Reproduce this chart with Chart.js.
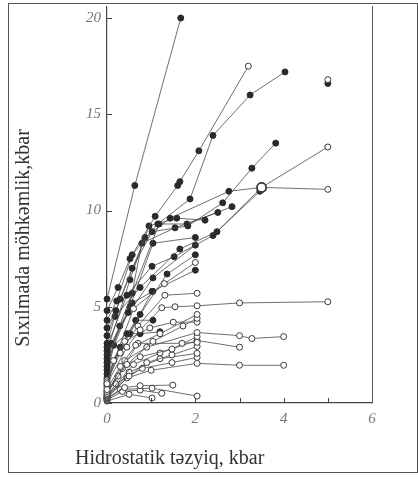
<!DOCTYPE html>
<html lang="az">
<head>
<meta charset="UTF-8">
<title>Sıxılmada möhkəmlik</title>
<script src="https://cdn.jsdelivr.net/npm/chart.js"></script>
<style>
  html, body { margin: 0; padding: 0; background: #fff; }
  #wrap { width: 418px; height: 482px; }
</style>
</head>
<body>
<div id="wrap"><canvas id="chart" width="418" height="482"></canvas></div>
<script>
// axis ticks
const xTickLabels = [0, 2, 4, 6];
const xTickMarks = [1, 2, 3, 4, 5];
const yTickLabels = [0, 5, 10, 15, 20];

// [hydrostatic pressure, compressive strength] pairs, kbar
// curves with filled markers
const filledUpper = [
  [[0, 5.4], [0.63, 11.3], [1.67, 20.0]],
  [[0, 4.8], [0.25, 6.0], [0.52, 7.5], [1.09, 9.7], [1.6, 11.3], [1.65, 11.5], [2.08, 13.1]],
  [[0, 4.3], [0.22, 5.3], [0.57, 7.7], [1.15, 9.3], [1.88, 10.6], [2.4, 13.9], [3.24, 16.0], [4.03, 17.2]],
  [[0, 3.9], [0.2, 4.8], [0.57, 7.0], [1.02, 8.9], [1.83, 9.2], [2.62, 10.4], [3.28, 12.2], [3.82, 13.5]],
  [[0, 3.5], [0.3, 5.4], [0.86, 8.6], [1.43, 9.6], [2.76, 11.0], [3.5, 11.2]],
  [[0, 3.1], [0.18, 4.5], [0.75, 6.0], [1.65, 8.0], [2.49, 8.9], [3.5, 11.2]],
  [[0, 2.9], [0.45, 5.6], [1.02, 7.1], [1.52, 7.6], [2.4, 8.7], [3.46, 11.0]]
];
const filledLower = [
  [[0, 2.7], [0.52, 6.4], [0.95, 9.2], [1.58, 9.6], [2.22, 9.5]],
  [[0, 2.5], [0.48, 4.7], [0.79, 8.3], [1.54, 9.1], [2.51, 9.9]],
  [[0, 2.3], [0.57, 5.7], [1.18, 9.3], [1.81, 9.3], [2.83, 10.2]],
  [[0, 2.1], [0.52, 5.0], [1.04, 8.3], [2.0, 8.6]],
  [[0, 1.9], [0.29, 4.0], [1.04, 6.5], [2.0, 8.2]],
  [[0, 1.7], [0.75, 4.6], [1.36, 6.7], [2.0, 7.7]],
  [[0, 1.5], [0.52, 3.6], [1.02, 5.8], [2.0, 6.9]],
  [[0, 1.3], [0.15, 3.0], [0.45, 3.6], [0.75, 3.6], [1.2, 3.7]],
  [[0, 1.0], [0.3, 2.9], [0.65, 4.3], [1.04, 4.3]],
  [[0, 0.9], [0.1, 3.1], [0.57, 5.2], [1.04, 5.8]]
];
// curves with open markers
const openUpper = [
  [[0, 1.0], [0.45, 2.9], [0.75, 3.8], [1.24, 4.95], [1.54, 5.0], [2.04, 5.05], [3.0, 5.2], [5.0, 5.26]],
  [[0, 1.1], [0.3, 2.6], [0.7, 4.0], [1.31, 5.6], [2.04, 5.7]],
  [[0, 0.7], [0.3, 1.9], [0.65, 3.0], [1.2, 3.6], [2.04, 4.6]],
  [[0, 0.6], [0.45, 2.0], [1.04, 3.2], [1.72, 4.0], [2.04, 4.4]],
  [[0, 0.8], [0.15, 2.2], [0.4, 3.2], [0.97, 3.9], [1.5, 4.2], [2.04, 4.2]],
  [[0, 1.2], [0.6, 4.9], [1.3, 6.2], [2.0, 7.3]],
  [[0, 0.5], [0.4, 2.2], [0.9, 2.9], [2.04, 3.66], [3.0, 3.5], [3.28, 3.35], [4.0, 3.45]],
  [[0, 0.6], [0.25, 1.4], [0.7, 3.1], [1.7, 3.1], [2.04, 3.15]]
];
const openLower = [
  [[0, 0.45], [0.35, 1.8], [0.75, 2.4], [1.47, 2.8], [2.04, 3.45]],
  [[0, 0.4], [0.6, 2.0], [1.2, 2.6], [2.04, 3.25], [3.0, 2.9]],
  [[0, 0.35], [0.5, 1.4], [0.9, 2.1], [1.47, 2.5], [2.04, 2.94]],
  [[0, 0.3], [0.5, 1.6], [1.2, 2.3], [2.04, 2.58]],
  [[0, 0.28], [0.2, 1.0], [0.8, 1.8], [1.47, 2.1], [2.04, 2.37]],
  [[0, 0.25], [0.45, 1.3], [1.0, 1.7], [2.04, 2.06], [3.0, 1.96], [4.0, 1.96]],
  [[0, 0.2], [0.4, 0.8], [0.75, 0.9], [1.49, 0.93]],
  [[0, 0.15], [0.35, 0.6], [0.75, 0.67], [1.24, 0.5]],
  [[0, 0.1], [0.5, 0.45], [1.02, 0.26]],
  [[0, 0.25], [0.3, 0.7], [1.02, 0.77], [2.04, 0.36]]
];
// open continuations of filled curves
const openTails = [
  [[2.08, 13.1], [3.2, 17.5]],
  [[3.5, 11.2], [5.0, 11.1]],
  [[3.5, 11.2], [5.0, 13.3]]
];
const looseFilled = [[5.0, 16.6]];
const looseOpen = [[5.0, 16.8]];

const LINE = '#4a4a4a';
const DOT = '#2a2a2a';

// firstPt: 'normal' | 'hide' | 'big'
function curve(points, filled, firstPt) {
  const first = firstPt || 'normal';
  return {
    data: points.map(p => ({ x: p[0], y: p[1] })),
    showLine: points.length > 1,
    borderColor: LINE,
    borderWidth: 0.8,
    pointRadius: ctx => {
      if (ctx.dataIndex !== 0) return 3;
      return first === 'hide' ? 0 : first === 'big' ? 4.5 : 3;
    },
    pointBorderWidth: ctx => (first === 'big' && ctx.dataIndex === 0) ? 1.6 : 1,
    pointBackgroundColor: filled ? DOT : '#fff',
    pointBorderColor: filled ? DOT : '#3a3a3a',
    clip: false
  };
}

const datasets = []
  .concat(openTails.map((c, i) => curve(c, false, i === 0 ? 'hide' : 'big')))
  .concat(looseOpen.map(p => curve([p], false)))
  .concat(looseFilled.map(p => curve([p], true)))
  .concat(openUpper.map(c => curve(c, false)))
  .concat(openLower.map(c => curve(c, false)))
  .concat(filledUpper.map(c => curve(c, true)))
  .concat(filledLower.map(c => curve(c, true)));

const framePlugin = {
  id: 'frame',
  beforeDraw(chart) {
    const ctx = chart.ctx;
    ctx.save();
    ctx.fillStyle = '#fff';
    ctx.fillRect(0, 0, chart.width, chart.height);
    ctx.restore();
  },
  afterDraw(chart) {
    const { ctx, chartArea: ca, scales } = chart;
    ctx.save();
    ctx.strokeStyle = '#555';
    ctx.lineWidth = 1;
    // outer box
    ctx.strokeRect(8.5, 3.5, 409, 469);
    // right edge of plot
    ctx.beginPath();
    ctx.moveTo(ca.right + 0.5, ca.top);
    ctx.lineTo(ca.right + 0.5, ca.bottom);
    ctx.stroke();
    // inward tick marks
    ctx.strokeStyle = '#444';
    ctx.beginPath();
    xTickMarks.forEach(v => {
      const px = Math.round(scales.x.getPixelForValue(v)) + 0.5;
      ctx.moveTo(px, ca.bottom);
      ctx.lineTo(px, ca.bottom - 5);
    });
    yTickLabels.forEach(v => {
      const py = Math.round(scales.y.getPixelForValue(v)) + 0.5;
      ctx.moveTo(ca.left, py);
      ctx.lineTo(ca.left + 5, py);
    });
    ctx.stroke();
    // axis titles
    ctx.fillStyle = '#333';
    ctx.font = '20px "Liberation Serif"';
    ctx.textBaseline = 'alphabetic';
    ctx.textAlign = 'left';
    ctx.fillText('Hidrostatik təzyiq, kbar', 75, 464);
    ctx.translate(29, 238);
    ctx.rotate(-Math.PI / 2);
    ctx.textAlign = 'center';
    ctx.fillText('Sıxılmada möhkəmlik,kbar', 0, 0);
    ctx.restore();
  }
};

const tickFont = { family: '"Liberation Serif"', size: 15, style: 'italic' };

new Chart(document.getElementById('chart'), {
  type: 'scatter',
  data: { datasets },
  options: {
    responsive: false,
    animation: false,
    layout: { padding: { left: 0, top: 3, right: 46, bottom: 0 } },
    plugins: { legend: { display: false }, tooltip: { enabled: false } },
    scales: {
      x: {
        type: 'linear',
        min: 0,
        max: 6,
        afterFit: s => { s.height = 79; s.paddingLeft = 0; s.paddingRight = 0; },
        grid: { display: false, drawTicks: false },
        border: { display: true, color: '#444', width: 1.2 },
        ticks: {
          stepSize: 1,
          padding: 7,
          color: '#777',
          font: tickFont,
          callback: v => xTickLabels.includes(v) ? String(v) : ''
        }
      },
      y: {
        type: 'linear',
        min: 0,
        max: 20.62,
        afterFit: s => { s.width = 107; s.paddingTop = 0; s.paddingBottom = 0; },
        grid: { display: false, drawTicks: false },
        border: { display: true, color: '#444', width: 1.2 },
        ticks: {
          stepSize: 5,
          includeBounds: false,
          padding: 6,
          color: '#777',
          font: tickFont,
          callback: v => yTickLabels.includes(v) ? String(v) : ''
        }
      }
    }
  },
  plugins: [framePlugin]
});
</script>
</body>
</html>
